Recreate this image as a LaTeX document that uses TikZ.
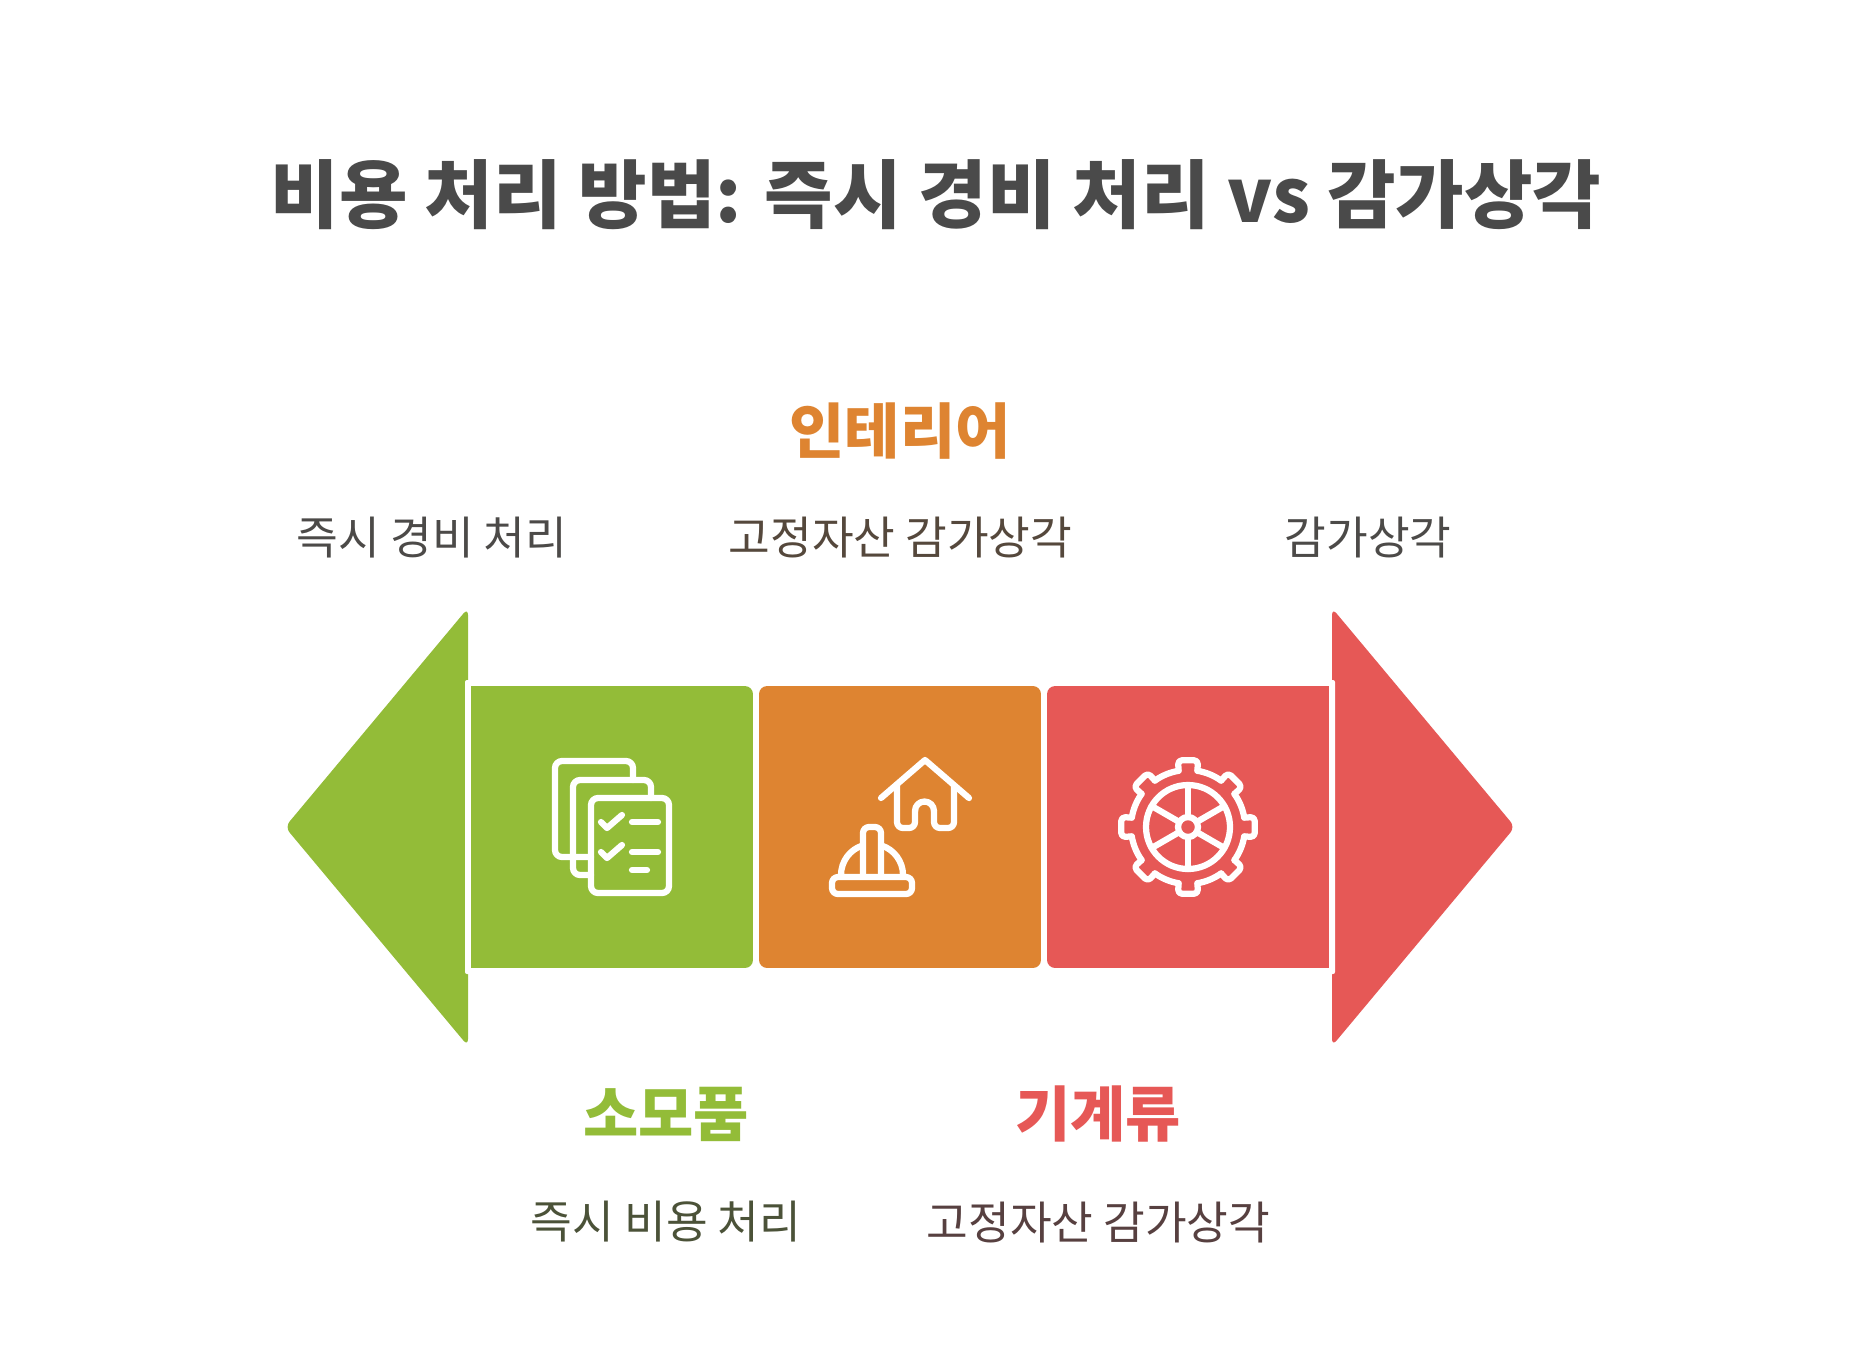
\documentclass[tikz,border=0pt]{standalone}
\usepackage{fontspec}
\usepackage{xcolor}
\setmainfont{Noto Sans CJK KR}
\usetikzlibrary{positioning,calc}
\definecolor{grn}{HTML}{93BC38}
\definecolor{org}{HTML}{DE8431}
\definecolor{rd}{HTML}{E65856}
\definecolor{subgray}{HTML}{4C4A48}
\definecolor{subbrown}{HTML}{55483C}
\definecolor{subolive}{HTML}{4B5238}
\definecolor{submaroon}{HTML}{574040}
\tikzset{
	box/.style={inner sep=0pt, minimum size=5.64cm, rounded corners=0.16cm},
	arrowhead/.style={rounded corners=0.14cm},
	ttl/.style={font=\fontsize{42.4}{42.4}\selectfont\bfseries, text=black!71},
	hd/.style={font=\fontsize{34.2}{34.2}\selectfont\bfseries},
	sub/.style={font=\fontsize{25.8}{25.8}\selectfont},
	ico/.style={draw=white, line width=0.125cm, line cap=round, line join=round, fill=none}
}
\begin{document}
\begin{tikzpicture}[x=0.02cm, y=-0.02cm]
	\useasboundingbox (0, 0) rectangle (1872, 1367);
	\fill[white] (0, 0) rectangle (1872, 1367);

	\node[ttl] (title) at (936, 195) {비용 처리 방법: 즉시 경비 처리 vs 감가상각};

	% arrow heads
	\fill[grn, arrowhead] (468, 608) -- (285, 827) -- (468, 1046) -- cycle;
	\fill[rd, arrowhead] (1332, 608) -- (1515, 827) -- (1332, 1046) -- cycle;
	\fill[white, rounded corners=0.04cm] (465, 680) rectangle (480, 974);
	\fill[white, rounded corners=0.04cm] (1320, 680) rectangle (1335, 974);

	\node[box, fill=grn] (b1) at (612, 827) {};
	\node[box, fill=org] (b2) at (900, 827) {};
	\node[box, fill=rd] (b3) at (1188, 827) {};
	\fill[grn] (471, 686) rectangle (600, 968);
	\fill[rd] (1200, 686) rectangle (1329, 968);

	% documents
	\draw[ico, rounded corners=0.14cm] (591, 857) -- (555, 857) -- (555, 761) -- (633, 761) -- (633, 780);
	\draw[ico, rounded corners=0.14cm] (591, 875) -- (573, 875) -- (573, 780) -- (651, 780) -- (651, 798);
	\draw[ico, rounded corners=0.14cm] (591, 798) rectangle (669, 893);
	\draw[ico] (601, 822) -- (607, 828) -- (622, 815);
	\draw[ico] (601, 852) -- (607, 858) -- (622, 845);
	\draw[ico] (632, 822) -- (658, 822);
	\draw[ico] (632, 852) -- (658, 852);
	\draw[ico] (632, 870) -- (647, 870);

	% house and helmet
	\draw[ico] (881, 798) -- (925, 760) -- (969, 798);
	\draw[ico, rounded corners=0.12cm] (897, 786) -- (897, 828) -- (915, 828) -- (915, 811);
	\draw[ico, rounded corners=0.12cm] (954, 786) -- (954, 828) -- (934, 828) -- (934, 811);
	\draw[ico] (915, 811) arc (180:360:9.5);
	\draw[ico, rounded corners=0.12cm] (832, 877) rectangle (912, 894);
	\draw[ico] (841, 875) arc (180:253:31);
	\draw[ico] (903, 875) arc (360:287:31);
	\draw[ico, rounded corners=0.12cm] (863, 875) -- (863, 827) -- (881, 827) -- (881, 875);

	% gear
	\draw[ico] (1188, 827) circle (10);
	\draw[ico] (1188, 827) circle (42);
	\foreach \a in {30, 90, 150, 210, 270, 330} {
		\draw[ico] ($(1188, 827)+(\a:10)$) -- ($(1188, 827)+(\a:42)$);
	}
	\foreach \a in {0, 45, 90, 135, 180, 225, 270, 315} {
		\draw[ico, rounded corners=0.08cm] ($(1188, 827)+(\a+9.5:57)$) -- ($(1188, 827)+(\a+8.5:67.5)$) -- ($(1188, 827)+(\a-8.5:67.5)$) -- ($(1188, 827)+(\a-9.5:57)$);
		\draw[ico] ($(1188, 827)+(\a+9.5:57)$) arc (\a+9.5:\a+35.5:57);
	}

	\node[hd, text=org] (lab2) at (900, 431) {인테리어};
	\node[hd, text=grn] (lab1) at (666, 1114) {소모품};
	\node[hd, text=rd] (lab3) at (1098, 1114) {기계류};

	\node[sub, text=subgray] (left) at (432, 538) {즉시 경비 처리};
	\node[sub, text=subbrown] (mid) at (900.5, 538) {고정자산 감가상각};
	\node[sub, text=subgray] (right) at (1368, 538) {감가상각};
	\node[sub, text=subolive] (sub1) at (666, 1222) {즉시 비용 처리};
	\node[sub, text=submaroon] (sub3) at (1098.5, 1222) {고정자산 감가상각};
\end{tikzpicture}
\end{document}
